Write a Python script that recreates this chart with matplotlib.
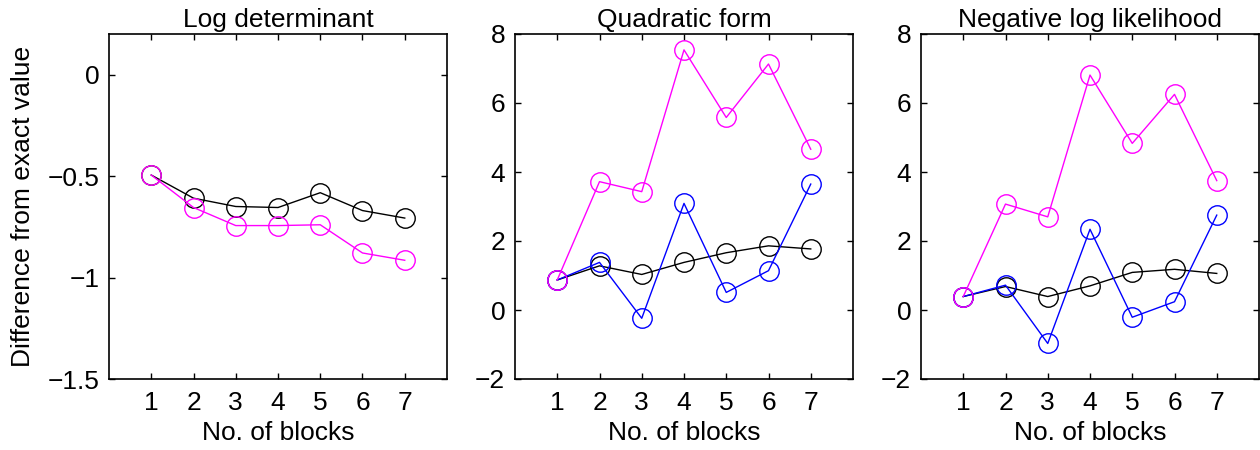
import matplotlib.pyplot as plt
import numpy as np

blocks = np.array([1, 2, 3, 4, 5, 6, 7])

# Log determinant
logdet_black = [-0.495, -0.609, -0.650, -0.655, -0.582, -0.670, -0.707]
logdet_magenta = [-0.495, -0.655, -0.744, -0.744, -0.740, -0.879, -0.915]

# Quadratic form
quad_black = [0.87, 1.28, 1.03, 1.38, 1.66, 1.86, 1.77]
quad_blue = [0.87, 1.38, -0.24, 3.09, 0.51, 1.14, 3.65]
quad_magenta = [0.87, 3.72, 3.43, 7.54, 5.58, 7.13, 4.66]

# Negative log likelihood
nll_black = [0.39, 0.68, 0.39, 0.70, 1.09, 1.18, 1.06]
nll_blue = [0.39, 0.72, -0.97, 2.34, -0.21, 0.24, 2.75]
nll_magenta = [0.39, 3.07, 2.70, 6.81, 4.83, 6.25, 3.75]

titles = ["Log determinant", "Quadratic form", "Negative log likelihood"]

plt.rcParams['font.family'] = ['Liberation Sans', 'DejaVu Sans']
plt.rcParams['axes.unicode_minus'] = True
fs = 19

fig = plt.figure(figsize=(12.6, 4.5), dpi=100)
W, H = 1260, 450
lefts = [109, 515, 921]
axes = [fig.add_axes([l / W, (H - 379) / H, 338 / W, (379 - 34) / H]) for l in lefts]

style = dict(marker='o', markersize=14, markerfacecolor='none', linewidth=1.0,
             markeredgewidth=1.0)

panels = [
    [(logdet_black, 'black'), (logdet_magenta, '#ff00ff')],
    [(quad_black, 'black'), (quad_blue, '#0000ff'), (quad_magenta, '#ff00ff')],
    [(nll_black, 'black'), (nll_blue, '#0000ff'), (nll_magenta, '#ff00ff')],
]

for ax, series, title in zip(axes, panels, titles):
    for vals, c in series:
        ax.plot(blocks, vals, color=c, markeredgecolor=c, **style)
    ax.set_xlim(0, 8)
    ax.set_xticks(blocks)
    ax.set_title(title, fontsize=fs, pad=5)
    ax.set_xlabel("No. of blocks", fontsize=fs, labelpad=4)
    ax.tick_params(direction='in', top=True, right=True, labelsize=fs,
                   length=4, width=1)
    ax.tick_params(axis='x', pad=9)
    ax.tick_params(axis='y', pad=7)
    for s in ax.spines.values():
        s.set_linewidth(1.2)

axes[0].set_ylim(-1.5, 0.2)
axes[0].set_yticks([-1.5, -1, -0.5, 0])
axes[0].set_yticklabels(["\u22121.5", "\u22121", "\u22120.5", "0"])
axes[0].set_ylabel("Difference from exact value", fontsize=fs, labelpad=9)
for ax in axes[1:]:
    ax.set_ylim(-2, 8)
    ax.set_yticks([-2, 0, 2, 4, 6, 8])
    ax.set_yticklabels(["\u22122", "0", "2", "4", "6", "8"])

plt.savefig("out.png", dpi=100)
